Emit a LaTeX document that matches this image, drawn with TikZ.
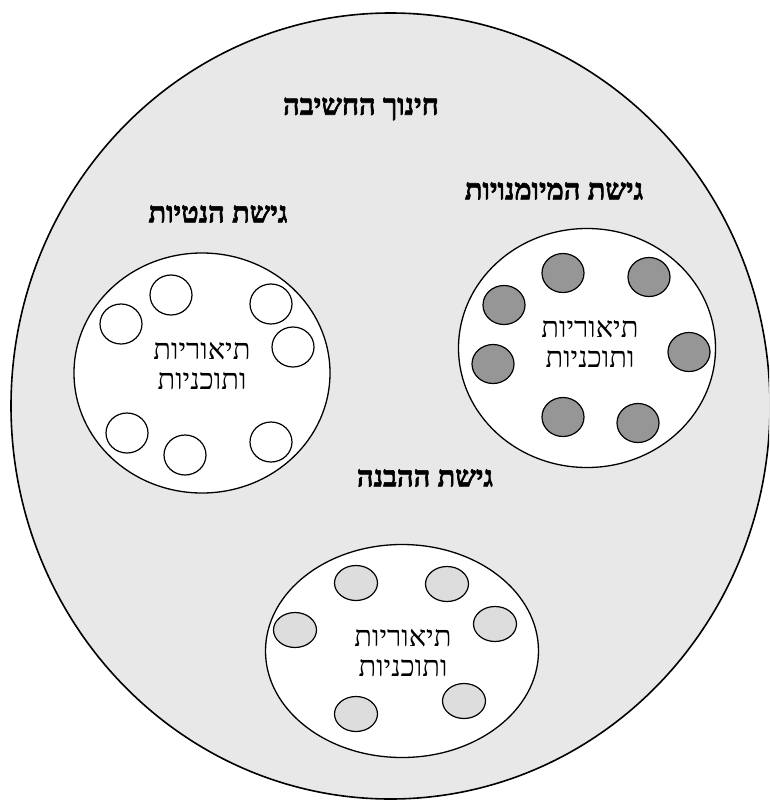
\documentclass[tikz,border=0pt]{standalone}
\usepackage{fontspec}
\usetikzlibrary{shapes.geometric}
\TeXXeTstate=1
\newfontfamily\hebfont[Script=Hebrew]{Liberation Serif}
\newfontfamily\hebbold[Script=Hebrew, FakeBold=2.2]{Liberation Serif Bold}
\definecolor{bggray}{HTML}{E8E8E8}
\definecolor{darkdot}{HTML}{969696}
\definecolor{lightdot}{HTML}{DDDDDD}
\tikzset{
  outerell/.style={ellipse, draw, line width=1.6pt, fill=bggray, inner sep=0pt},
  groupell/.style={ellipse, draw, line width=1.3pt, fill=white, inner sep=0pt},
  dotell/.style={ellipse, draw, line width=1.2pt, inner sep=0pt},
  whitedot/.style={dotell, fill=white, minimum width=42pt, minimum height=40pt},
  darkdotell/.style={dotell, fill=darkdot, minimum width=42pt, minimum height=39pt},
  lightdotell/.style={dotell, fill=lightdot, minimum width=43pt, minimum height=35pt},
  heading/.style={font=\hebbold\fontsize{29}{33}\selectfont, inner sep=0pt},
  bodytext/.style={font=\hebfont\fontsize{29}{30}\selectfont, align=center, inner sep=0pt},
}
\begin{document}
\begin{tikzpicture}[x=1pt,y=-1pt]
\useasboundingbox (0,0) rectangle (769,801);
\clip (0,0) rectangle (769,801);
\node[outerell, minimum width=759pt, minimum height=786pt] (big) at (390.5,406) {};

\node[heading] (title) at (361,109) {\beginR חינוך החשיבה\endR};
\node[heading] (hmum) at (554,191) {\beginR גישת המיומנויות\endR};
\node[heading] (hnet) at (218,214) {\beginR גישת הנטיות\endR};
\node[heading] (hhav) at (425,478) {\beginR גישת ההבנה\endR};

% left group
\node[groupell, minimum width=256pt, minimum height=240pt] (gleft) at (202,373) {};
\node[whitedot] (l1) at (121,324) {};
\node[whitedot] (l2) at (171,295) {};
\node[whitedot] (l3) at (271,304) {};
\node[whitedot] (l4) at (293,347) {};
\node[whitedot] (l5) at (127,433) {};
\node[whitedot] (l6) at (185,455) {};
\node[whitedot] (l7) at (271,442) {};
\node[bodytext] (tleft) at (202,366) {\beginR תיאוריות\endR\\\beginR ותוכניות\endR};

% right group
\node[groupell, minimum width=257pt, minimum height=239pt] (gright) at (587,348) {};
\node[darkdotell] (r1) at (563,273) {};
\node[darkdotell] (r2) at (649,277) {};
\node[darkdotell] (r3) at (504,305) {};
\node[darkdotell] (r4) at (493,364) {};
\node[darkdotell] (r5) at (689,352) {};
\node[darkdotell] (r6) at (563,417) {};
\node[darkdotell] (r7) at (638,423) {};
\node[bodytext] (tright) at (590,344) {\beginR תיאוריות\endR\\\beginR ותוכניות\endR};

% bottom group
\node[groupell, minimum width=273pt, minimum height=213pt] (gbottom) at (402,651) {};
\node[lightdotell] (b1) at (356,583) {};
\node[lightdotell] (b2) at (447,584) {};
\node[lightdotell] (b3) at (295,630) {};
\node[lightdotell] (b4) at (495,624) {};
\node[lightdotell] (b5) at (356,714) {};
\node[lightdotell] (b6) at (464,701) {};
\node[bodytext] (tbottom) at (403,653) {\beginR תיאוריות\endR\\\beginR ותוכניות\endR};
\end{tikzpicture}
\end{document}
